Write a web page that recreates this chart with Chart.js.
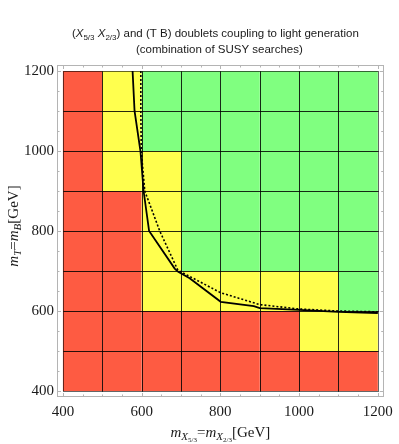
<!DOCTYPE html>
<html>
<head>
<meta charset="utf-8">
<script src="https://cdn.jsdelivr.net/npm/chart.js@4.4.1/dist/chart.umd.min.js"></script>
<style>
html,body{margin:0;padding:0;background:#fff;}
canvas{display:block;}
</style>
</head>
<body>
<canvas id="c" width="399" height="444"></canvas>
<script>
// ---- data ----
const xEdges = [400, 500, 600, 700, 800, 900, 1000, 1100, 1200];
const yEdges = [400, 500, 600, 700, 800, 900, 1000, 1100, 1200];
// rows from bottom (400-500) to top (1100-1200); R = excluded, Y = partly, G = allowed
const cellRows = [
  "RRRRRRRR",
  "RRRRRRYY",
  "RRYYYYYG",
  "RRYGGGGG",
  "RRYGGGGG",
  "RYYGGGGG",
  "RYGGGGGG",
  "RYGGGGGG"
];
const solidX = [577, 582, 597, 605, 619, 684, 693, 722, 801, 885, 900, 1000, 1100, 1200];
const solidY = [1200, 1100, 1000, 900, 800, 706, 698, 682, 623, 612, 607, 603, 598, 595];
const dottedX = [598, 598, 599, 608, 646, 692, 800, 900, 1000, 1100, 1200];
const dottedY = [1200, 1100, 1000, 900, 800, 702, 646, 616, 605, 600, 598];
const tickValues = [400, 600, 800, 1000, 1200];
const minorTickValues = [400, 450, 500, 550, 600, 650, 700, 750, 800, 850, 900, 950, 1000, 1050, 1100, 1150, 1200];
const axisMin = 385, axisMax = 1215;

const cellColors = { R: '#fe5b42', Y: '#ffff4e', G: '#80ff80' };

function pts(xs, ys) { return xs.map((x, i) => ({ x: x, y: ys[i] })); }

const cellsPlugin = {
  id: 'cells',
  beforeDatasetsDraw(chart) {
    const ctx = chart.ctx, xs = chart.scales.x, ys = chart.scales.y;
    ctx.save();
    for (let r = 0; r < cellRows.length; r++) {
      for (let c = 0; c < cellRows[r].length; c++) {
        const x0 = xs.getPixelForValue(xEdges[c]), x1 = xs.getPixelForValue(xEdges[c + 1]);
        const y0 = ys.getPixelForValue(yEdges[r + 1]), y1 = ys.getPixelForValue(yEdges[r]);
        ctx.fillStyle = cellColors[cellRows[r][c]];
        ctx.fillRect(x0, y0, x1 - x0, y1 - y0);
      }
    }
    ctx.strokeStyle = 'rgba(0,0,0,0.6)';
    ctx.lineWidth = 1;
    for (let r = 0; r < cellRows.length; r++) {
      for (let c = 0; c < cellRows[r].length; c++) {
        const x0 = xs.getPixelForValue(xEdges[c]), x1 = xs.getPixelForValue(xEdges[c + 1]);
        const y0 = ys.getPixelForValue(yEdges[r + 1]), y1 = ys.getPixelForValue(yEdges[r]);
        ctx.strokeRect(Math.round(x0) + 0.5, Math.round(y0) + 0.5, Math.round(x1) - Math.round(x0), Math.round(y1) - Math.round(y0));
      }
    }
    ctx.restore();
  }
};

function drawSegments(ctx, segs, cx, cy) {
  let w = 0;
  segs.forEach(s => { ctx.font = s.f; s.w = ctx.measureText(s.t).width; w += s.w; });
  let x = cx - w / 2;
  segs.forEach(s => {
    ctx.font = s.f;
    ctx.fillText(s.t, x, cy + (s.dy || 0));
    x += s.w;
  });
}

const framePlugin = {
  id: 'frame',
  afterDraw(chart) {
    const ctx = chart.ctx, xs = chart.scales.x, ys = chart.scales.y, a = chart.chartArea;
    ctx.save();
    ctx.strokeStyle = '#b4b4b4';
    ctx.lineWidth = 1;
    ctx.strokeRect(Math.round(a.left) + 0.5, Math.round(a.top) + 0.5, Math.round(a.right - a.left) - 1, Math.round(a.bottom - a.top) - 1);
    ctx.beginPath();
    minorTickValues.forEach(v => {
      const len = tickValues.includes(v) ? 4 : 2.5;
      const px = Math.round(xs.getPixelForValue(v)) + 0.5;
      ctx.moveTo(px, a.bottom); ctx.lineTo(px, a.bottom - len);
      ctx.moveTo(px, a.top); ctx.lineTo(px, a.top + len);
      const py = Math.round(ys.getPixelForValue(v)) + 0.5;
      ctx.moveTo(a.left, py); ctx.lineTo(a.left + len, py);
      ctx.moveTo(a.right, py); ctx.lineTo(a.right - len, py);
    });
    ctx.stroke();

    // titles
    ctx.fillStyle = '#1a1a1a';
    ctx.textBaseline = 'alphabetic';
    const sans = '"Liberation Sans", Arial, sans-serif';
    const serif = '"Liberation Serif", "Times New Roman", serif';
    const cx = (a.left + a.right) / 2;
    drawSegments(ctx, [
      { t: '(', f: '11.5px ' + sans },
      { t: 'X', f: 'italic 11.5px ' + sans },
      { t: '5/3', f: '8px ' + sans, dy: 2.5 },
      { t: ' ', f: '11.5px ' + sans },
      { t: 'X', f: 'italic 11.5px ' + sans },
      { t: '2/3', f: '8px ' + sans, dy: 2.5 },
      { t: ') and (T B) doublets coupling to light generation', f: '11.5px ' + sans }
    ], cx - 5, 37);
    drawSegments(ctx, [
      { t: '(combination of SUSY searches)', f: '11.5px ' + sans }
    ], cx - 1, 53);

    // x axis title
    drawSegments(ctx, [
      { t: 'm', f: 'italic 15px ' + serif },
      { t: 'X', f: 'italic 11px ' + serif, dy: 3 },
      { t: '5/3', f: '7px ' + serif, dy: 5 },
      { t: '=', f: '15px ' + serif },
      { t: 'm', f: 'italic 15px ' + serif },
      { t: 'X', f: 'italic 11px ' + serif, dy: 3 },
      { t: '2/3', f: '7px ' + serif, dy: 5 },
      { t: '[GeV]', f: '15px ' + serif }
    ], cx, 437);

    // y axis title
    ctx.save();
    ctx.translate(18, 226);
    ctx.rotate(-Math.PI / 2);
    drawSegments(ctx, [
      { t: 'm', f: 'italic 15px ' + serif },
      { t: 'T', f: 'italic 11px ' + serif, dy: 3 },
      { t: '=', f: '15px ' + serif },
      { t: 'm', f: 'italic 15px ' + serif },
      { t: 'B', f: 'italic 11px ' + serif, dy: 3 },
      { t: '[GeV]', f: '15px ' + serif }
    ], 0, 0);
    ctx.restore();
    ctx.restore();
  }
};

const serifFont = { family: '"Liberation Serif", "Times New Roman", serif', size: 15 };

new Chart(document.getElementById('c'), {
  type: 'scatter',
  data: {
    datasets: [
      {
        label: 'solid',
        data: pts(solidX, solidY),
        showLine: true,
        borderColor: '#000',
        borderWidth: 1.8,
        pointRadius: 0,
        fill: false
      },
      {
        label: 'dotted',
        data: pts(dottedX, dottedY),
        showLine: true,
        borderColor: '#000',
        borderWidth: 1.6,
        borderDash: [2, 2],
        pointRadius: 0,
        fill: false
      }
    ]
  },
  options: {
    responsive: false,
    animation: false,
    devicePixelRatio: 1,
    layout: { padding: { top: 65, right: 10, left: 0, bottom: 0 } },
    plugins: { legend: { display: false }, tooltip: { enabled: false }, title: { display: false } },
    scales: {
      x: {
        type: 'linear',
        min: axisMin, max: axisMax,
        afterBuildTicks: s => { s.ticks = tickValues.map(v => ({ value: v })); },
        afterFit: s => { s.height = 47; },
        grid: { display: false, drawTicks: false },
        border: { display: false },
        ticks: { font: serifFont, color: '#1a1a1a', padding: 6, maxRotation: 0, autoSkip: false, callback: v => String(v) }
      },
      y: {
        type: 'linear',
        min: axisMin, max: axisMax,
        afterBuildTicks: s => { s.ticks = tickValues.map(v => ({ value: v })); },
        afterFit: s => { s.width = 57; },
        grid: { display: false, drawTicks: false },
        border: { display: false },
        ticks: { font: serifFont, color: '#1a1a1a', padding: 3, autoSkip: false, callback: v => String(v) }
      }
    }
  },
  plugins: [cellsPlugin, framePlugin]
});
</script>
</body>
</html>
